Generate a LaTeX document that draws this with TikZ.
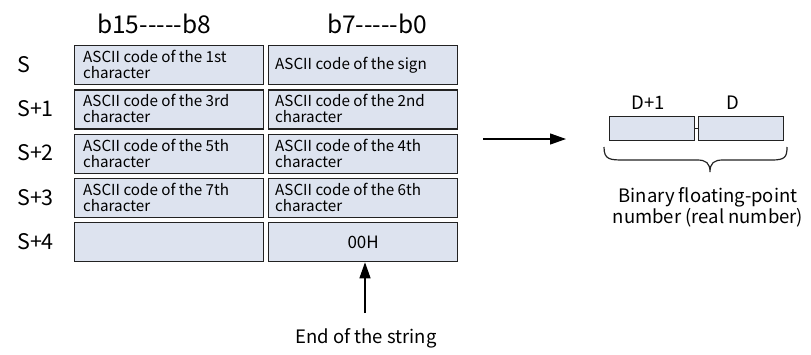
\documentclass[tikz,border=0pt]{standalone}
\usepackage{fontspec}
\setmainfont{Noto Sans CJK SC}
\usetikzlibrary{arrows.meta}
\definecolor{cellfill}{HTML}{DDE3EF}
\definecolor{cellline}{HTML}{222222}
\newcommand{\hy}{\mbox{-}}
\tikzset{
  cell/.style={draw=cellline, fill=cellfill, line width=1.3pt, minimum width=189pt, minimum height=39pt, inner sep=0pt, anchor=north west},
  celltxt/.style={anchor=north west, inner sep=0pt, align=left, font=\fontsize{15.2}{16}\selectfont},
  rowlab/.style={anchor=west, inner sep=0pt, font=\fontsize{21.5}{24}\selectfont},
  head/.style={inner sep=0pt, font=\fontsize{24.5}{26}\selectfont},
  dbox/.style={draw=cellline, fill=cellfill, line width=1.3pt, minimum width=85pt, minimum height=24pt, inner sep=0pt, anchor=north west},
  lab/.style={inner sep=0pt, font=\fontsize{18.5}{19.5}\selectfont, align=center},
  arr/.style={line width=1.2pt, -{Triangle[length=16pt,width=11pt]}}
}
\begin{document}
\begin{tikzpicture}[x=1pt,y=-1pt]
\useasboundingbox (0,0) rectangle (811,354);
\node[head] (h1) at (154,24) {b15\hy\hy\hy\hy\hy b8};
\node[head] (h2) at (377,24) {b7\hy\hy\hy\hy\hy b0};
% rows
\foreach \i/\lab in {0/S,1/S+1,2/S+2,3/S+3,4/S+4}{
  \pgfmathsetmacro{\yy}{45+44.25*\i}
  \node[cell] (L\i) at (74,\yy) {};
  \node[cell] (R\i) at (268,\yy) {};
  \node[rowlab] (lab\i) at (17,\yy+19.5) {\lab};
}
\node[celltxt] (t0l) at ([xshift=9pt,yshift=-5pt]L0.north west) {ASCII code of the 1st\\character};
\node[celltxt, anchor=west] (t0r) at ([xshift=7pt]R0.west) {ASCII code of the sign};
\node[celltxt] (t1l) at ([xshift=9pt,yshift=-5pt]L1.north west) {ASCII code of the 3rd\\character};
\node[celltxt] (t1r) at ([xshift=7pt,yshift=-5pt]R1.north west) {ASCII code of the 2nd\\character};
\node[celltxt] (t2l) at ([xshift=9pt,yshift=-5pt]L2.north west) {ASCII code of the 5th\\character};
\node[celltxt] (t2r) at ([xshift=7pt,yshift=-5pt]R2.north west) {ASCII code of the 4th\\character};
\node[celltxt] (t3l) at ([xshift=9pt,yshift=-5pt]L3.north west) {ASCII code of the 7th\\character};
\node[celltxt] (t3r) at ([xshift=7pt,yshift=-5pt]R3.north west) {ASCII code of the 6th\\character};
\node[celltxt, anchor=center, font=\fontsize{17}{18}\selectfont] (t4r) at (R4.center) {00H};
% end of string
\node[lab] (eos) at (366,338) {End of the string};
\coordinate (eosa) at (365,313);
\draw[arr] (eosa) -- (eosa |- R4.south);
% right arrow
\coordinate (ra1) at (483,139);
\coordinate (ra2) at (566,139);
\draw[arr] (ra1) -- (ra2);
% D boxes
\node[dbox] (D1) at (609,116) {};
\node[dbox] (D0) at (698,116) {};
\draw[cellline, line width=1pt] (D1.east) -- (D0.west);
\node[lab] (d1lab) at (648,103) {D+1};
\node[lab] (d0lab) at (733,103) {D};
% brace
\draw[cellline, line width=1.2pt] (604,147) .. controls (604,160) and (610,160) .. (625,160)
  -- (697,160) .. controls (706,160) and (710,163) .. (710,172)
  .. controls (710,163) and (714,160) .. (723,160)
  -- (772,160) .. controls (785,160) and (787,157) .. (787,147);
\node[lab] (bin) at (708,207) {Binary floating-point\\number (real number)};
\end{tikzpicture}
\end{document}
